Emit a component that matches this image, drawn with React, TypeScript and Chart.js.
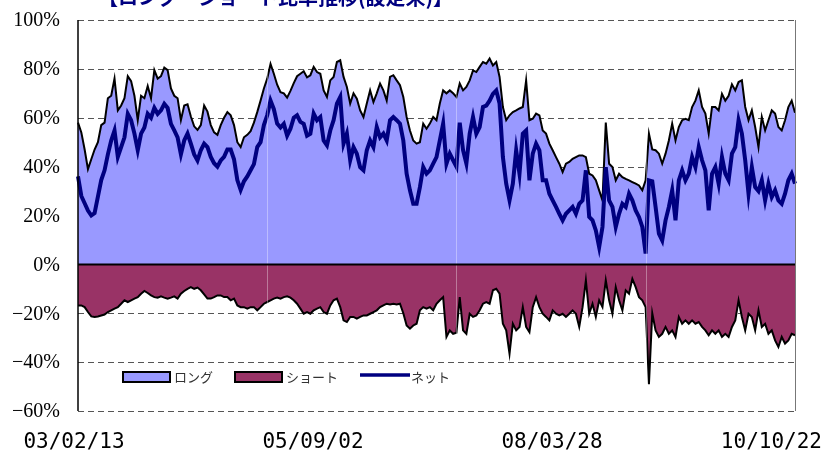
import React, { useEffect, useRef } from "react";
import { Chart, registerables } from "chart.js";

Chart.register(...registerables);

const TITLE = "【ロング・ショート比率推移(設定来)】";
const DATE_LABELS = ["03/02/13", "05/09/02", "08/03/28", "10/10/22"];
const SERIES_NAMES = ["ロング", "ショート", "ネット"];
const Y_MIN = -60;
const Y_MAX = 100;
const Y_STEP = 20;
const VLINE_EVERY = 57;

const LONG = [
  58, 54, 47, 39, 43, 47, 50, 57, 58, 68,
  69, 76, 63, 65, 68, 77, 75, 69, 59, 69,
  68, 73, 68, 79.5, 76, 77, 80.5, 79.5, 72, 69,
  68, 59, 65, 65.5, 60.5, 56.5, 55, 57, 65, 62.5,
  57, 54, 53, 57, 60, 62.3, 61, 57, 50, 48,
  52, 53, 54.5, 58, 62.3, 67, 72, 76, 82, 78,
  73.5, 70.5, 70, 68.2, 71, 74.2, 77, 78, 79, 76.5,
  77.4, 80.8, 78.7, 78, 71.2, 68.5, 75.3, 76.7, 82.8, 83.5,
  76.7, 72.6, 65.8, 70, 67.8, 63, 60.3, 65.8, 71.2, 66.4,
  70, 74, 71.2, 67, 76.7, 77.4, 75.3, 73.3, 68.5, 60.3,
  54.8, 50.7, 49.4, 50, 57.6, 55.5, 57.6, 60.3, 59, 65.8,
  71.2, 70, 71.2, 70, 68.5, 74, 71.2, 72.6, 75.3, 79.4,
  78.7, 80.8, 82.8, 82.1, 84.2, 81.4, 82.8, 76.7, 64.4, 59,
  61, 62.3, 63, 63.8, 64.4, 75.3, 59, 59.6, 61.7, 61,
  54.8, 53.5, 49.4, 46.7, 43.9, 41.2, 37.8, 41.2, 41.9, 43.2,
  43.9, 44.6, 44.6, 43.9, 37.1, 36.4, 34.4, 30.3, 26.2, 58,
  41.2, 39.8, 34.4, 37.1, 35.7, 35, 34.4, 33.7, 33, 32.3,
  30.3, 34.4, 53.5, 47, 46.7, 45.3, 41.2, 45.3, 50.7, 57.6,
  50.7, 56.2, 59, 59.6, 59, 64.4, 67, 71.2, 64.4, 61.7,
  53.5, 64.4, 64.4, 63, 69.8, 67, 69, 73.7, 71.2, 74.6,
  75.3, 64.4, 59, 63, 56.2, 48, 60.3, 54.8, 59, 63,
  61.7, 56.2, 54.8, 59, 64.4, 67, 62,
];

const SHORT = [
  -16.8, -16.8, -17.5, -19.5, -21.3, -21.5, -21.3, -20.9, -20.5, -19.5,
  -18.8, -18.1, -17.5, -16.1, -14.7, -15.4, -14.7, -14, -13.4, -12,
  -10.9, -11.7, -12.7, -13.4, -13.6, -13.1, -13.6, -14, -13.6, -13.1,
  -14, -12, -10.9, -10, -9.3, -10, -9.5, -10.6, -12.3, -14,
  -14, -13.4, -12.7, -12.7, -13.4, -13.4, -14.7, -14, -16.8, -17.5,
  -17.5, -18.1, -17.5, -17.5, -18.8, -17.5, -16.1, -15.4, -14.7, -14,
  -13.6, -14, -13.4, -13.1, -13.6, -14.7, -16.1, -18.1, -20.2, -19.5,
  -20.2, -18.8, -18.1, -17.5, -19.5, -20.2, -16.8, -14.7, -14, -17.5,
  -22.9, -23.6, -21.5, -21.5, -22.2, -21.5, -20.9, -20.9, -20.2, -19.5,
  -18.8, -17.5, -16.8, -16.1, -16.4, -16.1, -16.4, -16.1, -20, -25,
  -26.3, -25, -24.3, -18.8, -17.5, -18.1, -17.5, -18.8, -16.1, -14.7,
  -13.4, -29.7, -27, -28.4, -28, -13.4, -27, -28.4, -20.2, -21.5,
  -20.9, -18.8, -16.1, -15.4, -16.1, -10.6, -10, -12, -24.3, -27,
  -36.6, -24.3, -27, -25.6, -17.5, -25.6, -27.7, -17.5, -13.4, -17.5,
  -20.2, -21.5, -22.9, -18.8, -20.2, -20.9, -20.2, -21.5, -20.2, -18.8,
  -20.2, -25.6, -17.5, -6.5, -20.2, -16.1, -21.5, -14.7, -17.5, -6.5,
  -14.7, -20.2, -9.3, -14.7, -18.8, -10.6, -12, -5.9, -9.3, -13.4,
  -14.7, -17.5, -49, -20, -27, -29.7, -28.4, -25.6, -28.4, -27,
  -29.7, -21.5, -24.3, -22.9, -24.3, -22.9, -24.3, -23.6, -25.6, -27,
  -29, -27, -28.4, -27, -29.7, -28.4, -29.7, -25.6, -22.9, -14.7,
  -21.5, -27, -20.2, -21.5, -27, -18.8, -25.6, -24.3, -28.4, -27,
  -31.1, -33.8, -29.7, -32.4, -31.1, -28.4, -29,
];

const NET = [
  36, 28, 25, 22, 20, 21, 27.7, 34.5, 38.5, 45,
  50.7, 54.8, 44, 48, 52, 61.6, 59, 53.5, 46.7, 53.5,
  56, 61.6, 60, 64, 61.6, 63, 65.7, 64, 57.5, 54.8,
  52, 45, 50.7, 53.5, 49.4, 45, 42.5, 46.7, 49.4, 48,
  44, 41.4, 40, 42.5, 44, 47, 47, 43, 34.5, 30.5,
  34, 36, 38.5, 41, 48, 50, 57, 61, 67, 63.5,
  57.6, 56, 57.5, 52.7, 55.5, 60, 61, 58.3, 57.5, 52.7,
  53.5, 61.7, 59, 60.3, 50.7, 48.7, 54.8, 59, 65.8, 68.5,
  49.4, 53.5, 42.6, 48, 45.3, 39.8, 38.5, 46.7, 50.7, 48,
  56.2, 52, 53.5, 50.7, 59, 60.3, 59, 57.6, 50.7, 37.1,
  30.3, 24.8, 24.8, 31.6, 39.8, 37.1, 38.5, 41.2, 43.9, 50.7,
  57.6, 41.2, 45.3, 42.6, 40, 58, 46.7, 41.2, 53.5, 60.3,
  53.5, 56.2, 64.4, 65, 67, 69.8, 71.2, 65.8, 43.9, 33,
  26.2, 33, 46.7, 37.1, 53.5, 54.8, 34.4, 45.3, 49.4, 46.7,
  34.4, 34.4, 28.9, 26.2, 23.5, 20.7, 18, 20.7, 22.1, 23.5,
  20.7, 24.8, 26.2, 38.5, 19.4, 18, 13.9, 7.1, 15.3, 39.8,
  26.2, 23.5, 15.3, 20.7, 24.8, 23.5, 28.9, 26.2, 22.1, 19.4,
  15.3, 4.4, 34.4, 34, 23.5, 12.6, 9.8, 18, 23.5, 30.3,
  18, 34.4, 38.5, 34.4, 37.1, 43.9, 39.8, 48, 42.6, 38.5,
  22.1, 37.1, 39.8, 33, 43.9, 37.1, 34.4, 45.3, 48, 59,
  53.5, 42.6, 28.9, 39.8, 31.6, 30, 34.4, 26.2, 33, 27.6,
  30.3, 26.2, 24.8, 28.9, 34.4, 37.1, 33,
];

const CATEGORIES = LONG.map((_, i) => String(i));

const COLORS = {
  long: "#9999FF",
  short: "#993366",
  net: "#000080",
  edge: "#000000",
  title: "#000080",
};

const decorPlugin = {
  id: "decor",
  beforeDatasetsDraw(chart: any) {
    const { ctx, chartArea: a, scales } = chart;
    const y = scales.y;
    ctx.save();
    ctx.strokeStyle = "#555";
    ctx.lineWidth = 1;
    ctx.setLineDash([6, 4]);
    y.ticks.forEach((t: any) => {
      if (t.value === 0) return;
      const py = Math.round(y.getPixelForValue(t.value)) + 0.5;
      ctx.beginPath();
      ctx.moveTo(a.left, py);
      ctx.lineTo(a.right, py);
      ctx.stroke();
    });
    ctx.restore();
  },
  afterDatasetsDraw(chart: any) {
    const { ctx, chartArea: a, scales } = chart;
    const x = scales.x;
    const y = scales.y;
    const n = chart.data.labels.length;
    ctx.save();
    // faint vertical separators visible over the fills
    ctx.strokeStyle = "rgba(255,255,255,0.35)";
    ctx.lineWidth = 1;
    for (let i = VLINE_EVERY; i < n - 1; i += VLINE_EVERY) {
      const px = Math.round(x.getPixelForValue(i)) + 0.5;
      ctx.beginPath();
      ctx.moveTo(px, a.top);
      ctx.lineTo(px, a.bottom);
      ctx.stroke();
    }
    // zero line
    const y0 = y.getPixelForValue(0);
    ctx.strokeStyle = "#000";
    ctx.lineWidth = 2;
    ctx.beginPath();
    ctx.moveTo(a.left, y0);
    ctx.lineTo(a.right, y0);
    ctx.stroke();
    // left axis and right border
    ctx.lineWidth = 1.5;
    ctx.beginPath();
    ctx.moveTo(a.left, a.top);
    ctx.lineTo(a.left, a.bottom);
    ctx.stroke();
    ctx.strokeStyle = "#777";
    ctx.lineWidth = 1;
    ctx.beginPath();
    ctx.moveTo(Math.round(a.right) + 0.5, a.top);
    ctx.lineTo(Math.round(a.right) + 0.5, a.bottom);
    ctx.stroke();

    // y labels
    ctx.fillStyle = "#000";
    ctx.font = '20px "Liberation Serif", "DejaVu Serif", serif';
    ctx.textAlign = "right";
    ctx.textBaseline = "middle";
    y.ticks.forEach((t: any) => {
      const v = t.value;
      const txt = (v < 0 ? "\u2212" + Math.abs(v) : String(v)) + "%";
      ctx.fillText(txt, a.left - 18, y.getPixelForValue(v) + 1);
    });

    // x labels
    ctx.font = '21px "DejaVu Sans Mono", monospace';
    ctx.textBaseline = "alphabetic";
    const step = (n - 1) / (DATE_LABELS.length - 1);
    const W = chart.width;
    DATE_LABELS.forEach((lab, j) => {
      const px = x.getPixelForValue(j * step) - 4;
      const w = ctx.measureText(lab).width;
      if (px + w / 2 > W - 12) {
        ctx.textAlign = "right";
        ctx.fillText(lab, W - 12, 448);
      } else {
        ctx.textAlign = "center";
        ctx.fillText(lab, px, 448);
      }
    });

    // legend
    const ds = chart.data.datasets;
    ctx.font = '13px "Noto Sans CJK JP", sans-serif';
    ctx.textAlign = "left";
    ctx.textBaseline = "middle";
    let lx = a.left + 45;
    const ly = a.bottom - 34;
    ds.forEach((d: any, i: number) => {
      if (i < 2) {
        ctx.fillStyle = d.backgroundColor;
        ctx.fillRect(lx, ly - 5, 47, 10);
        ctx.strokeStyle = "#000";
        ctx.lineWidth = 2;
        ctx.strokeRect(lx, ly - 5, 47, 10);
      } else {
        ctx.strokeStyle = d.borderColor;
        ctx.lineWidth = 3.5;
        ctx.beginPath();
        ctx.moveTo(lx, ly - 2);
        ctx.lineTo(lx + 50, ly - 2);
        ctx.stroke();
      }
      lx += 51;
      ctx.fillStyle = "#333";
      ctx.fillText(d.label, lx, ly);
      lx += ctx.measureText(d.label).width + 22;
    });

    // title (cut off at the top of the picture)
    ctx.fillStyle = COLORS.title;
    ctx.font = 'bold 20px "Noto Sans CJK JP", sans-serif';
    ctx.textAlign = "left";
    ctx.textBaseline = "alphabetic";
    ctx.fillText(TITLE, 98, 5);
    ctx.restore();
  },
};

export default function App() {
  const ref = useRef<HTMLCanvasElement | null>(null);
  useEffect(() => {
    if (!ref.current) return;
    const chart = new Chart(ref.current, {
      type: "line",
      data: {
        labels: CATEGORIES,
        datasets: [
          {
            label: SERIES_NAMES[0],
            data: LONG,
            borderColor: COLORS.edge,
            backgroundColor: COLORS.long,
            borderWidth: 2,
            fill: "origin",
            pointRadius: 0,
            tension: 0,
            order: 3,
          },
          {
            label: SERIES_NAMES[1],
            data: SHORT,
            borderColor: COLORS.edge,
            backgroundColor: COLORS.short,
            borderWidth: 2,
            fill: "origin",
            pointRadius: 0,
            tension: 0,
            order: 2,
          },
          {
            label: SERIES_NAMES[2],
            data: NET,
            borderColor: COLORS.net,
            backgroundColor: COLORS.net,
            borderWidth: 4,
            fill: false,
            pointRadius: 0,
            tension: 0,
            order: 1,
          },
        ],
      },
      options: {
        responsive: false,
        animation: false,
        devicePixelRatio: 1,
        layout: { padding: { left: 78, right: 39, top: 20, bottom: 41 } },
        plugins: {
          legend: { display: false },
          tooltip: { enabled: false },
          title: { display: false },
        },
        scales: {
          x: {
            type: "category",
            display: false,
            offset: false,
          },
          y: {
            min: Y_MIN,
            max: Y_MAX,
            ticks: { stepSize: Y_STEP, display: false },
            grid: { display: false, drawTicks: false },
            border: { display: false },
          },
        },
      },
      plugins: [decorPlugin],
    });
    return () => chart.destroy();
  }, []);

  return (
    <div style={{ position: "fixed", left: 0, top: 0, width: 834, height: 452, background: "#fff" }}>
      <canvas ref={ref} width={834} height={452} style={{ display: "block" }} />
    </div>
  );
}
